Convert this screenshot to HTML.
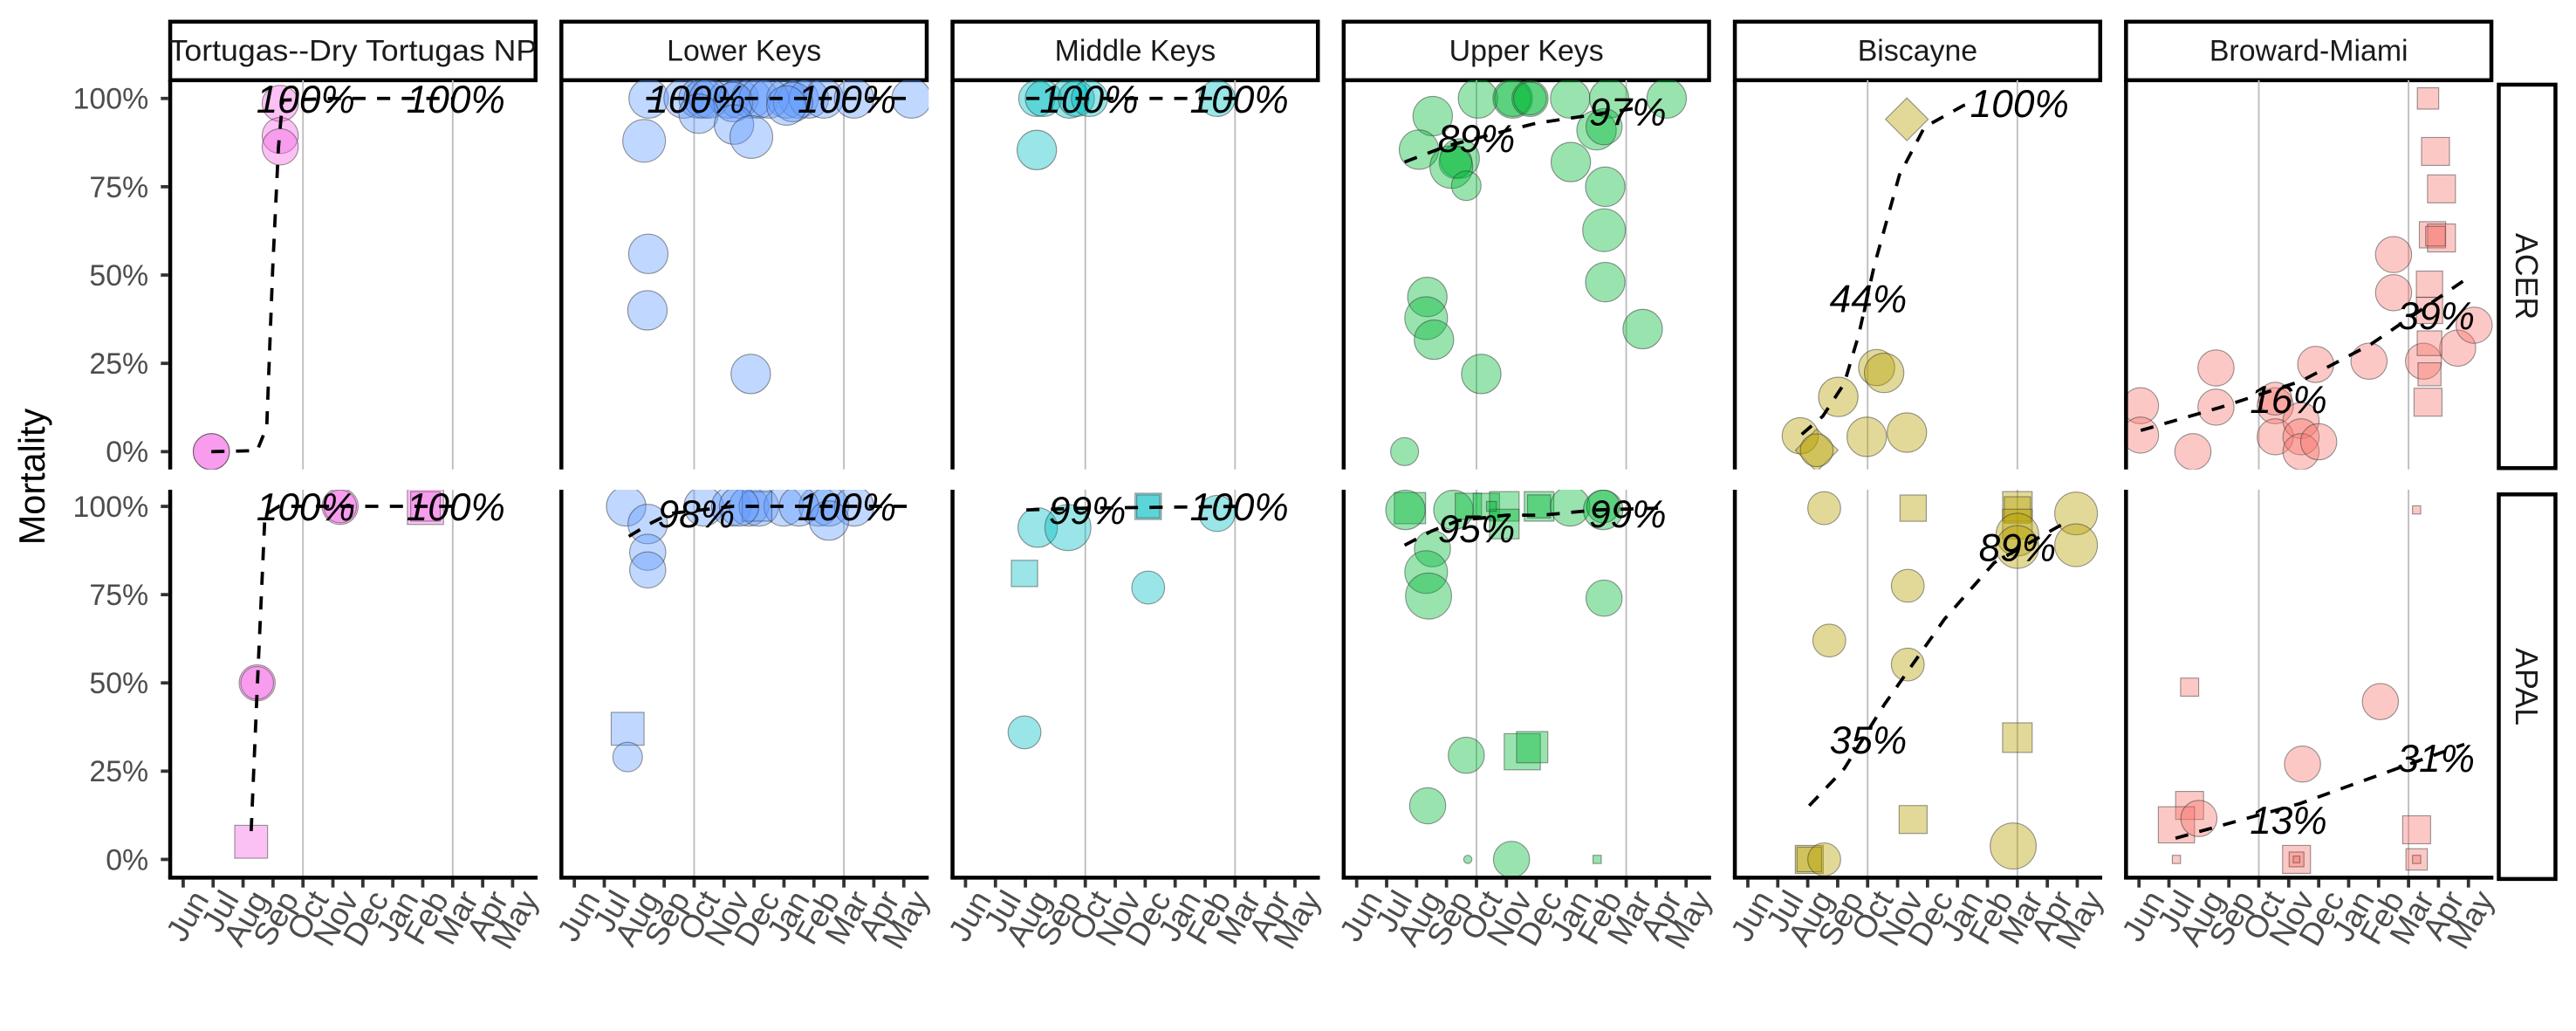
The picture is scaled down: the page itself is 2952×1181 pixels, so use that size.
<!DOCTYPE html>
<html><head><meta charset="utf-8">
<style>
html,body{margin:0;padding:0;background:#fff;}
svg{display:block;font-family:"Liberation Sans",Arial,sans-serif;}
</style></head>
<body>
<svg id="chart" width="2952" height="1181" viewBox="0 0 1568 627.3" preserveAspectRatio="none" xmlns="http://www.w3.org/2000/svg"></svg>
<script>
const months = ['Jun','Jul','Aug','Sep','Oct','Nov','Dec','Jan','Feb','Mar','Apr','May'];
const regions = ['Tortugas--Dry Tortugas NP','Lower Keys','Middle Keys','Upper Keys','Biscayne','Broward-Miami'];
const speciesNames = ['ACER','APAL'];
const yTicks = [0,25,50,75,100];
const yTickLabels = ['0%','25%','50%','75%','100%'];
const gridMonths = [4,9];
const regionColors = ['#F564E3','#619CFF','#00BFC4','#00BA38','#B79F00','#F8766D'];

// points: [monthIndex, mortality%, shape, size]
const ptsTortAcer = [[0.94,0,'c',11],[0.94,0,'c',11],[3.24,98.6,'c',11],[3.24,89.5,'c',11],[3.24,86.3,'c',11]];
const ptsTortApal = [[2.27,5,'s',20],[2.47,50,'c',11],[2.47,50,'c',10],[5.24,100,'c',11],[5.24,100,'c',10],[8.09,100,'s',22],[8.09,100,'s',18]];
const ptsLowAcer = [[2.48,100,'c',12],[3.65,100,'c',12],[4.15,100,'c',12],[4.32,100,'c',12],[5.16,100,'c',12],[5.49,100,'c',12],[5.91,100,'c',12],[6.16,100,'c',12],[7.08,100,'c',12],[7.49,100,'c',12],[7.83,100,'c',12],[8.33,100,'c',12],[9.34,100,'c',12],[11.26,100,'c',12],[4.5,100,'c',12],[5.3,99,'c',12],[6.5,100,'c',12],[7.3,99,'c',12],[4.15,95.7,'c',12],[5.33,92.6,'c',12],[5.91,89.1,'c',13],[7.08,98,'c',12],[2.33,88,'c',13],[2.47,56,'c',12],[2.44,40,'c',12],[5.89,22,'c',12]];
const ptsLowApal = [[1.73,100,'c',12],[2.45,95,'c',12],[2.45,87,'c',11],[2.45,82,'c',11],[1.78,37,'s',20],[1.78,29,'c',9],[4.32,100,'c',12],[5.24,100,'c',12],[5.83,100,'c',12],[6.16,100,'c',12],[6.99,100,'c',12],[8.16,100,'c',12],[8.5,100,'c',12],[9.34,100,'c',12],[6.1,100,'s',18],[5.5,100,'c',12],[7.5,100,'c',12],[8.5,96,'c',12]];
const ptsMidAcer = [[2.38,100,'c',11],[2.6,100,'c',11],[3.47,100,'c',12],[3.7,100,'c',11],[4.14,100,'c',11],[8.4,100,'c',11],[2.38,85.4,'c',12]];
const ptsMidApal = [[1.97,81,'s',16],[1.97,36,'c',10],[2.41,94,'c',12],[3.42,94,'c',14],[6.1,100,'s',16],[6.1,100,'s',14],[6.1,77,'c',10],[8.4,98,'c',11]];
const ptsUppAcer = [[2.54,95,'c',12],[2.08,85.5,'c',12],[3.44,83,'c',12],[3.3,82,'c',10],[3.16,80.6,'c',13],[3.66,75.3,'c',9],[4.05,100,'c',12],[5.21,100,'c',12],[5.21,100,'c',11],[5.79,100,'c',11],[5.79,100,'c',10],[7.13,100,'c',12],[8.43,100,'c',12],[8.01,91,'c',12],[8.26,92,'c',11],[7.15,82,'c',12],[8.3,75,'c',12],[8.26,62.7,'c',13],[8.3,48,'c',12],[10.35,100,'c',12],[9.55,34.7,'c',12],[2.36,43.8,'c',12],[2.32,37.8,'c',13],[2.58,31.7,'c',12],[4.16,22,'c',12],[1.6,0,'c',8.5]];
const ptsUppApal = [[1.78,99.5,'s',19],[1.63,99,'c',12],[3.23,99,'c',12],[3.73,100,'s',16],[4.33,100,'s',16],[4.93,100,'s',18],[4.93,95,'s',18],[6.09,100,'s',18],[6.09,100,'s',14],[4.5,100,'s',6],[7.13,100,'c',12],[8.23,99,'c',12],[8.23,100,'c',10],[2.53,88,'c',11],[2.32,81.4,'c',13],[2.4,74.6,'c',14],[8.26,74,'c',11],[3.66,29.5,'c',11],[2.37,15.2,'c',11],[5.17,0,'c',11],[3.71,0,'c',2.5],[8.03,0,'s',5],[5.53,30.5,'s',22],[5.86,31.8,'s',19]];
const ptsBisAcer = [[5.31,94.1,'d',13],[1.75,4.5,'c',11],[2.3,0.4,'d',13],[2.3,0.4,'c',10],[3.02,15.5,'c',12],[4.3,23.8,'c',11],[4.55,22.3,'c',12],[3.97,4.2,'c',12],[5.31,5.4,'c',12]];
const ptsBisApal = [[2.55,99.5,'c',10],[5.52,99.5,'s',16],[9.0,100,'s',18],[9.0,99,'s',16],[9.0,95,'s',18],[9.0,92,'c',13],[9.0,88.5,'c',13],[10.96,98,'c',13],[10.96,89,'c',13],[5.34,77.5,'c',10],[2.72,62,'c',10],[5.34,55.2,'c',10],[9.0,34.5,'s',18],[5.52,11.3,'s',17],[8.86,3.8,'c',14],[2.05,0,'s',17],[2.05,0,'s',15],[2.55,0,'c',10]];
const ptsBroAcer = [[0.05,13,'c',11],[0.05,4.7,'c',11],[1.8,0,'c',11],[2.57,23.7,'c',11],[2.57,12.6,'c',11],[4.55,13,'c',11],[4.55,15,'c',10],[4.55,4.2,'c',11],[5.41,8.8,'c',11],[5.41,4.2,'c',11],[5.41,0,'c',11],[6.0,2.8,'c',11],[5.9,24.7,'c',11],[7.68,25.6,'c',11],[8.5,55.8,'c',11],[8.5,45,'c',11],[9.5,25.6,'c',11],[10.64,29.3,'c',11],[11.19,35.8,'c',11],[9.65,100,'s',13],[9.9,85,'s',17],[10.1,74.4,'s',17],[9.8,61.4,'s',16],[10.1,60.5,'s',17],[9.9,61,'s',12],[9.7,47.4,'s',16],[9.7,40,'s',16],[9.7,30.7,'s',15],[9.7,21.9,'s',14],[9.65,14,'s',17]];
const ptsBroApal = [[1.69,48.8,'s',11],[1.69,15.3,'s',17],[1.25,9.8,'s',22],[1.25,0,'s',5],[5.26,0,'s',17],[5.26,0,'s',9],[5.26,0,'s',4],[9.27,99,'s',5],[9.27,8.4,'s',17],[9.27,0,'s',13],[9.27,0,'s',5],[2.0,11.6,'c',11],[5.46,27,'c',11],[8.06,44.7,'c',11]];

// trend lines: [monthIndex, mortality%]
const trTortAcer = [[0.94,0],[2.47,0.3],[2.79,7],[2.99,52],[3.18,86],[3.32,99.5],[5,100],[8.97,100]];
const trTortApal = [[2.27,8],[2.47,48],[2.73,97.5],[3.2,100],[9,100]];
const trLowAcer = [[2.4,100],[11.2,100]];
const trLowApal = [[1.82,91.5],[2.5,95],[3.2,98],[5.3,100],[11.2,100]];
const trMidAcer = [[2.03,100],[9.1,100]];
const trMidApal = [[2.03,99],[4,99.5],[9.1,100]];
const trUppAcer = [[1.6,82],[3,86.5],[4.6,90],[6,93],[7.6,95],[9.3,97.2]];
const trUppApal = [[1.6,89],[2.5,93],[3.4,96],[5,97.5],[6.2,97.5],[8,99],[10.1,99.5]];
const trBisAcer = [[1.8,4.9],[2.5,10],[3.22,19.3],[3.7,33],[4.22,52.6],[5.06,78.3],[5.9,91.9],[7.2,98],[7.6,99]];
const trBisApal = [[2.05,15.2],[3.22,25.7],[4.56,43.9],[6.57,68.1],[8.22,84],[10.58,95.3]];
const trBroAcer = [[0.06,6],[2.7,12.5],[5.42,20],[7.76,30.5],[10.84,48.4]];
const trBroApal = [[1.22,6],[5.37,15.8],[10.86,32.6]];

// labels: [monthIndex, mortality%, text]
const lbTortAcer = [[4.09,100,'100%'],[9.1,100,'100%']];
const lbTortApal = [[4.09,100,'100%'],[9.1,100,'100%']];
const lbLowAcer = [[4.07,100,'100%'],[9.1,100,'100%']];
const lbLowApal = [[4.07,98,'98%'],[9.1,100,'100%']];
const lbMidAcer = [[4.12,100,'100%'],[9.14,100,'100%']];
const lbMidApal = [[4.07,99,'99%'],[9.14,100,'100%']];
const lbUppAcer = [[4.0,88.8,'89%'],[9.05,96.4,'97%']];
const lbUppApal = [[4.0,93.8,'95%'],[9.05,98,'99%']];
const lbBisAcer = [[4.02,43.5,'44%'],[9.07,98.7,'100%']];
const lbBisApal = [[4.02,34,'35%'],[9.0,88.5,'89%']];
const lbBroAcer = [[4.99,14.9,'16%'],[9.92,38.6,'39%']];
const lbBroApal = [[4.99,11.2,'13%'],[9.92,28.8,'31%']];

const panelPts = [[ptsTortAcer,ptsTortApal],[ptsLowAcer,ptsLowApal],[ptsMidAcer,ptsMidApal],[ptsUppAcer,ptsUppApal],[ptsBisAcer,ptsBisApal],[ptsBroAcer,ptsBroApal]];
const panelTr = [[trTortAcer,trTortApal],[trLowAcer,trLowApal],[trMidAcer,trMidApal],[trUppAcer,trUppApal],[trBisAcer,trBisApal],[trBroAcer,trBroApal]];
const panelLb = [[lbTortAcer,lbTortApal],[lbLowAcer,lbLowApal],[lbMidAcer,lbMidApal],[lbUppAcer,lbUppApal],[lbBisAcer,lbBisApal],[lbBroAcer,lbBroApal]];

const NS='http://www.w3.org/2000/svg';
const svg=document.getElementById('chart');
function mk(tag,attrs,parent){const e=document.createElementNS(NS,tag);for(const k in attrs)e.setAttribute(k,attrs[k]);(parent||svg).appendChild(e);return e;}

const P0=102.4, PSTEP=238.1, PW=224.8;
const rowTop=[48.8,298], rowBot=[285.6,534];
const y100=[59.9,308.1], y0=[274.8,522.9];
function xScale(col,m){return P0+col*PSTEP+9.1+m*18.23;}
function yScale(row,v){return y0[row]+(y100[row]-y0[row])*v/100;}

const defs=mk('defs',{});
for(let c=0;c<6;c++)for(let r=0;r<2;r++){
  const cp=mk('clipPath',{id:'clip'+c+'_'+r},defs);
  mk('rect',{x:P0+c*PSTEP,y:rowTop[r],width:PW,height:rowBot[r]-rowTop[r]},cp);
}

const yt=mk('text',{x:27,y:290,'font-size':22,fill:'#000','text-anchor':'middle',transform:'rotate(-90 27 290)'});
yt.textContent='Mortality';



for(let c=0;c<6;c++){
  const left=P0+c*PSTEP;
  const sg=mk('g',{});
  
  
  mk('rect',{x:left+1.2,y:13.2,width:PW-2.4,height:35.6,fill:'#fff',stroke:'#000','stroke-width':2.4},sg);
  const st=mk('text',{x:left+PW/2,y:37,'font-size':18,'text-anchor':'middle',fill:'#1a1a1a'},sg);
  st.textContent=regions[c];
  if(c===0){st.setAttribute('textLength','224');st.setAttribute('lengthAdjust','spacingAndGlyphs');}
  for(let r=0;r<2;r++){
    const g=mk('g',{});
    
    
    gridMonths.forEach(m=>{
      const gl=mk('line',{x1:xScale(c,m),x2:xScale(c,m),y1:rowTop[r],y2:rowBot[r],stroke:'#bebebe','stroke-width':1},g);
      
      
    });
    const cg=mk('g',{'clip-path':'url(#clip'+c+'_'+r+')'},g);
    const col=regionColors[c];
    panelPts[c][r].forEach(p=>{
      const x=xScale(c,p[0]), y=yScale(r,p[1]), s=p[3];
      let el;
      if(p[2]==='c') el=mk('circle',{cx:x,cy:y,r:s},cg);
      else if(p[2]==='s') el=mk('rect',{x:x-s/2,y:y-s/2,width:s,height:s},cg);
      else el=mk('polygon',{points:[x,y-s,x+s,y,x,y+s,x-s,y].join(' ')},cg);
      el.setAttribute('fill',col);el.setAttribute('fill-opacity','0.4');
      el.setAttribute('stroke','#333');el.setAttribute('stroke-opacity','0.5');el.setAttribute('stroke-width','0.6');
      
      
    });
    const tr=panelTr[c][r];
    const pl=mk('polyline',{points:tr.map(q=>xScale(c,q[0])+','+yScale(r,q[1])).join(' '),fill:'none',stroke:'#000','stroke-width':2,'stroke-dasharray':'8 7'},cg);
    
    
    panelLb[c][r].forEach(l=>{
      const t=mk('text',{x:xScale(c,l[0]),y:yScale(r,l[1])+8.5,'font-size':23.5,'font-style':'italic','text-anchor':'middle',fill:'#000'},g);
      t.textContent=l[2];
      
      
    });
    mk('line',{x1:left+1.2,x2:left+1.2,y1:rowTop[r],y2:rowBot[r],stroke:'#000','stroke-width':2.4},g);
    if(c===0){
      yTicks.forEach((v,i)=>{
        const y=yScale(r,v);
        mk('line',{x1:left-4.5,x2:left,y1:y,y2:y,stroke:'#333','stroke-width':2},g);
        const tl=mk('text',{x:left-12,y:y+6.3,'font-size':18,'text-anchor':'end',fill:'#4d4d4d'},g);
        tl.textContent=yTickLabels[i];
        
        
      });
    }
    if(r===1){
      mk('line',{x1:left,x2:left+PW,y1:534,y2:534,stroke:'#000','stroke-width':2.4},g);
      months.forEach((mo,i)=>{
        const x=xScale(c,i);
        mk('line',{x1:x,x2:x,y1:535,y2:540,stroke:'#333','stroke-width':2},g);
        const ml=mk('text',{x:0,y:0,'font-size':19.5,'text-anchor':'end',fill:'#4d4d4d',dy:'0.72em',transform:'translate('+(x+4)+',540) rotate(-60)'},g);
        ml.textContent=mo;
        
        
      });
    }
  }
}
[[50.3,286],[299.6,536]].forEach((yy,r)=>{
  const g=mk('g',{});
  
  
  mk('rect',{x:1521,y:yy[0]+1.2,width:34.5,height:yy[1]-yy[0]-2.4,fill:'#fff',stroke:'#000','stroke-width':2.4},g);
  const cy=(yy[0]+yy[1])/2, cx=1538;
  const t=mk('text',{x:cx,y:cy,'font-size':19,'text-anchor':'middle',dy:'0.35em',fill:'#1a1a1a',transform:'rotate(90 '+cx+' '+cy+')'},g);
  t.textContent=speciesNames[r];
});
</script>
</body></html>
